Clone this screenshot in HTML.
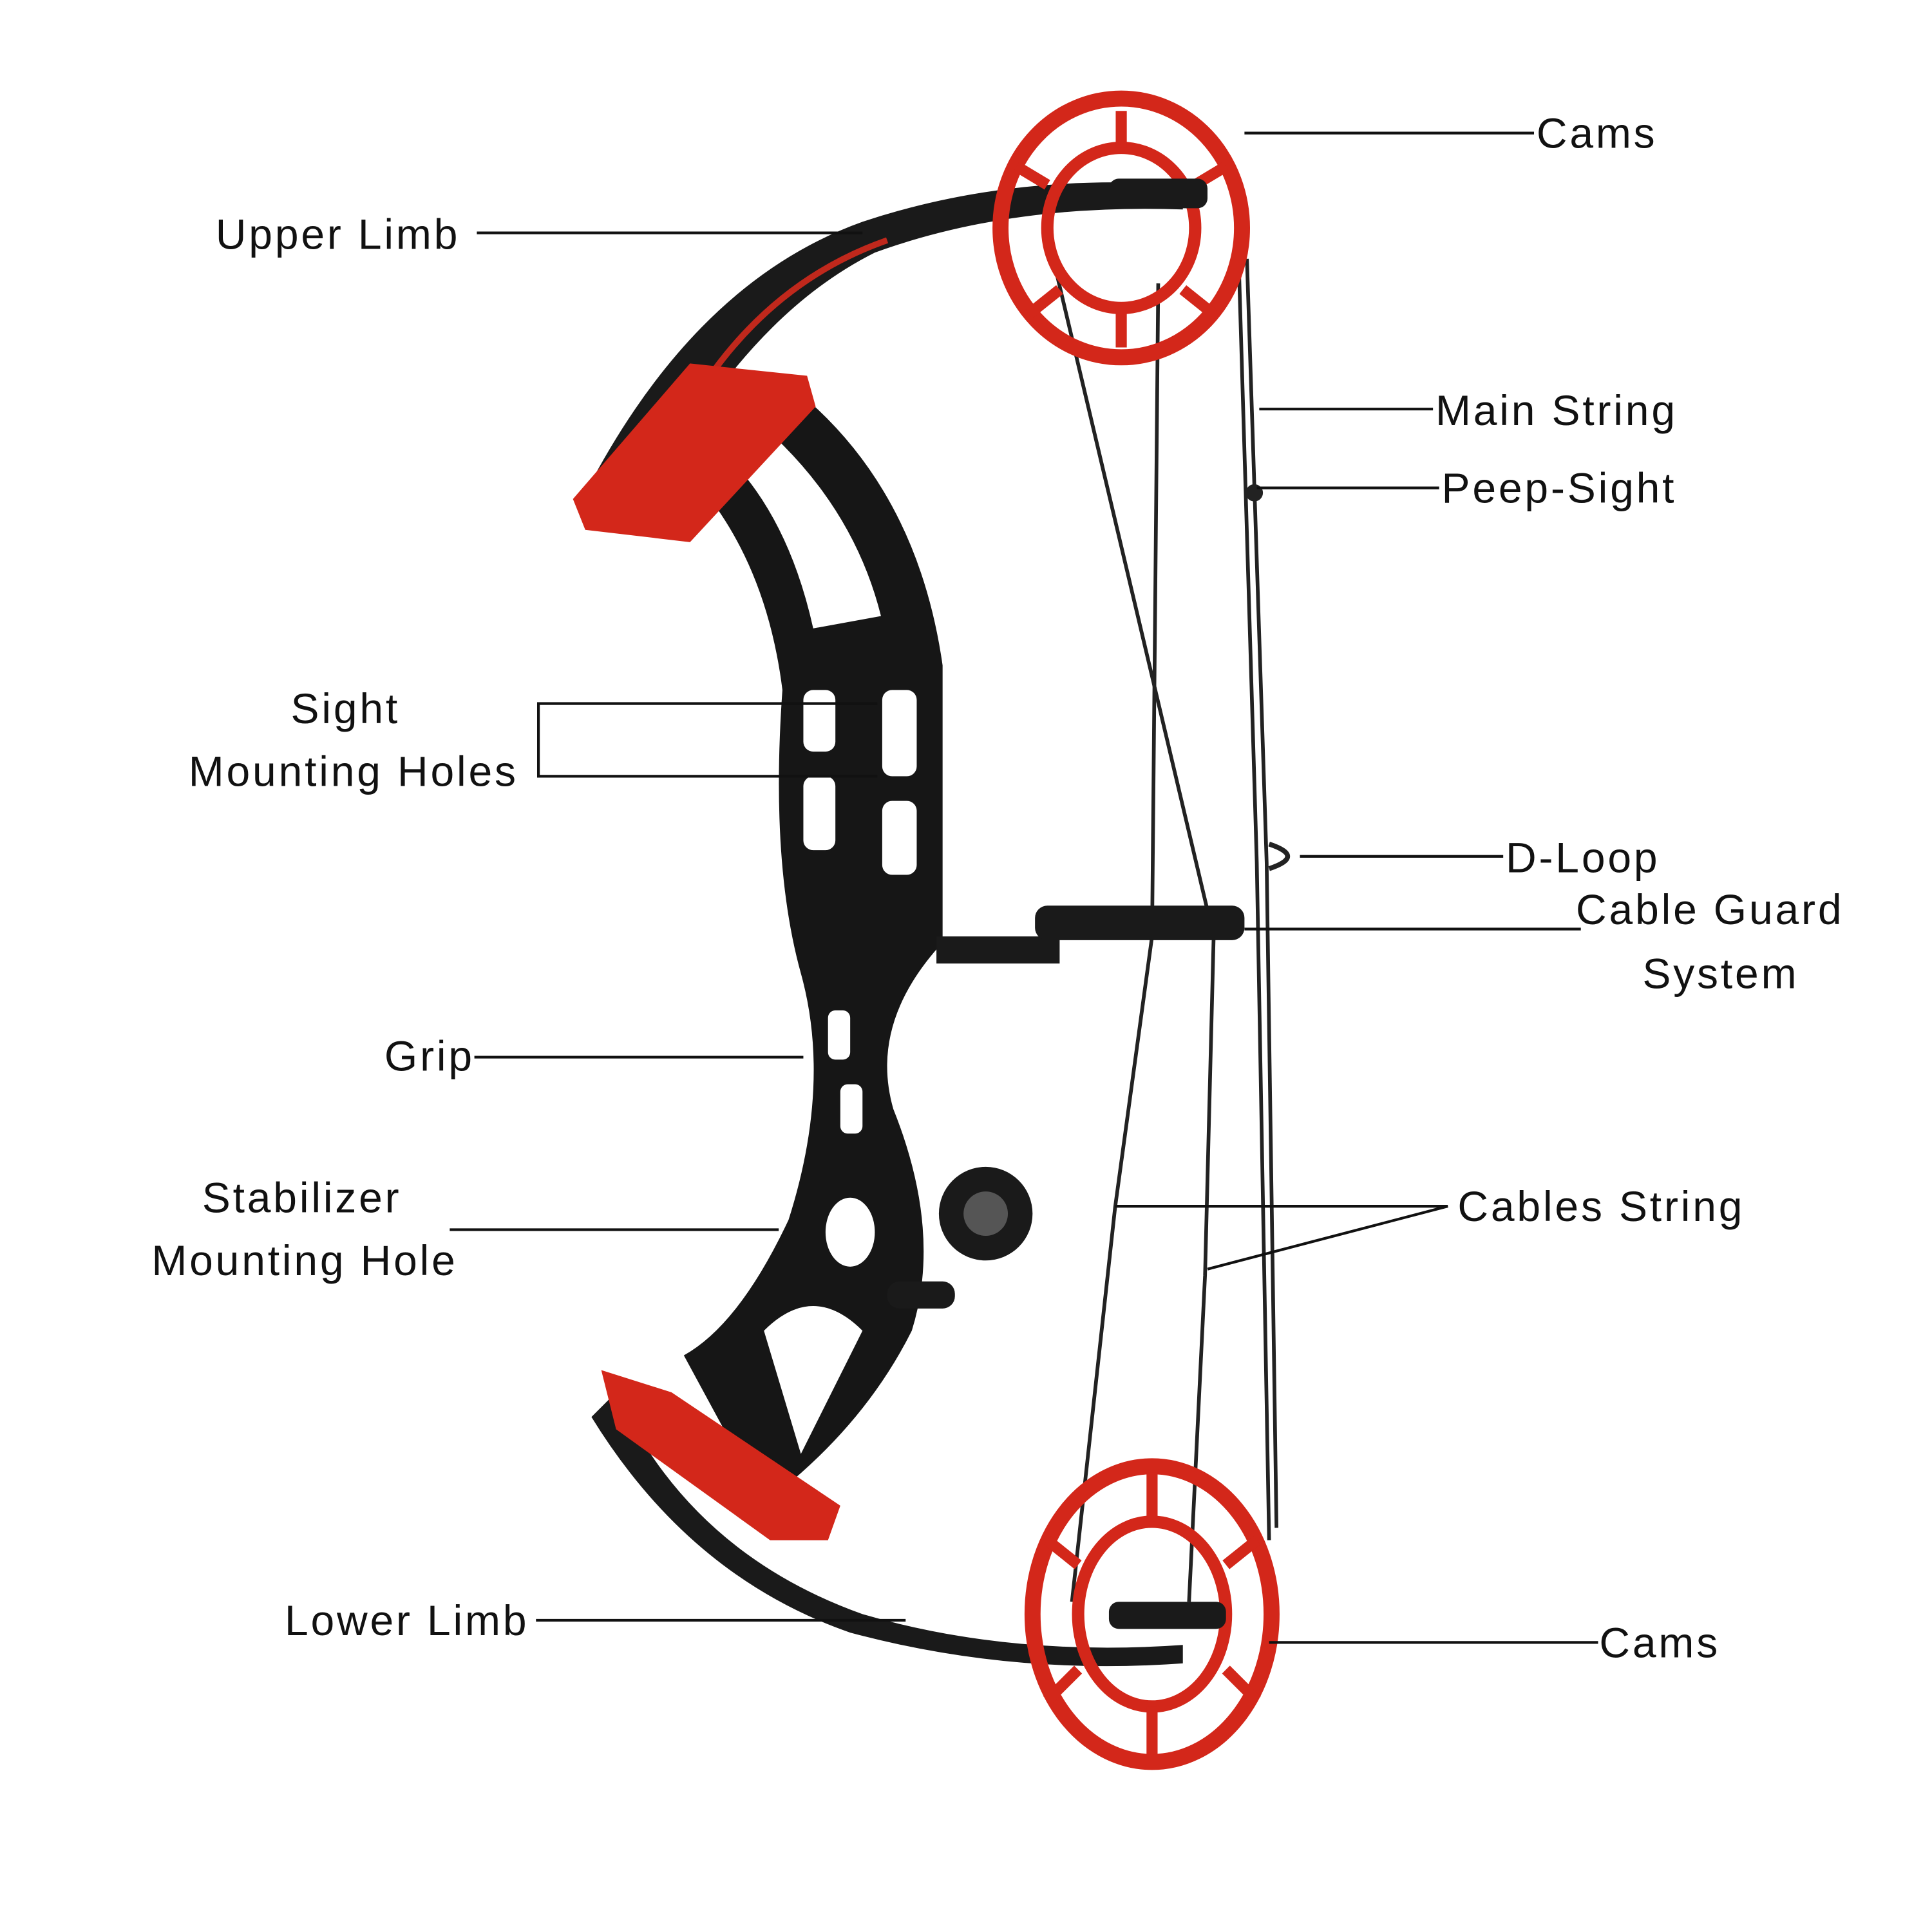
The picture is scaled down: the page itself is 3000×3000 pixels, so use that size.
<!DOCTYPE html>
<html><head><meta charset="utf-8">
<style>
html,body{margin:0;padding:0;background:#fff;}
svg{display:block;}
text{font-family:"Liberation Sans",sans-serif;font-size:34.5px;fill:#111;letter-spacing:2px;}
</style></head>
<body>
<svg width="3000" height="3000" viewBox="0 0 1568 1568" xmlns="http://www.w3.org/2000/svg">
<rect width="1568" height="1568" fill="#fff"/>
<!-- strings -->
<g stroke="#222" stroke-width="3" fill="none">
<path d="M1005 200 L1020 700 L1030 1250"/>
<path d="M1012 210 L1028 700 L1036 1240"/>
<path d="M850 190 L985 760 L978 1035 L965 1300"/>
<path d="M940 230 L935 760 L905 980 L870 1300"/>
</g>
<!-- upper limb -->
<path d="M470 410 Q560 230 700 180 Q820 140 960 150 L960 170 Q820 165 710 205 Q600 260 520 420 Z" fill="#1a1a1a"/>
<path d="M560 330 Q620 230 720 195" stroke="#c0281c" stroke-width="5" fill="none"/>
<!-- lower limb -->
<path d="M500 1130 Q560 1260 700 1310 Q820 1345 960 1335 L960 1350 Q820 1360 690 1325 Q560 1280 480 1150 Z" fill="#1a1a1a"/>
<!-- riser -->
<path d="M545 370 Q620 440 635 560 Q625 700 650 790 Q675 880 640 990 Q600 1075 555 1100 L620 1220 Q700 1160 740 1080 Q765 1000 725 900 Q705 830 765 765 L765 540 Q745 400 650 320 Z" fill="#161616"/>
<path d="M600 330 Q690 400 715 500 L660 510 Q640 420 590 370 Z" fill="#fff"/>
<g fill="#fff">
<rect x="652" y="560" width="26" height="50" rx="8"/><rect x="652" y="630" width="26" height="60" rx="8"/>
<rect x="716" y="560" width="28" height="70" rx="8"/><rect x="716" y="650" width="28" height="60" rx="8"/>
<rect x="672" y="820" width="18" height="40" rx="6"/><rect x="682" y="880" width="18" height="40" rx="6"/>
<ellipse cx="690" cy="1000" rx="20" ry="28"/>
<path d="M620 1080 Q660 1040 700 1080 L650 1180 Z"/>
</g>
<!-- red limb pockets -->
<path d="M465 405 L560 295 L655 305 L662 330 L560 440 L475 430 Z" fill="#d3271a"/>
<path d="M488 1112 L545 1130 L682 1222 L672 1250 L625 1250 L500 1160 Z" fill="#d3271a"/>
<!-- cable guard / rest -->
<rect x="760" y="760" width="100" height="22" fill="#1a1a1a"/>
<rect x="840" y="735" width="170" height="28" rx="10" fill="#1a1a1a"/>
<circle cx="800" cy="985" r="38" fill="#1a1a1a"/><circle cx="800" cy="985" r="18" fill="#555"/>
<rect x="720" y="1040" width="55" height="22" rx="10" fill="#1a1a1a"/>
<!-- cams -->
<g fill="none" stroke="#d3271a">
<ellipse cx="910" cy="185" rx="98" ry="105" stroke-width="13"/>
<ellipse cx="910" cy="185" rx="60" ry="65" stroke-width="10"/>
<path d="M910 120 L910 90 M850 150 L825 135 M970 150 L995 135 M860 235 L835 255 M960 235 L985 255 M910 250 L910 282" stroke-width="9"/>
<ellipse cx="935" cy="1310" rx="97" ry="120" stroke-width="13"/>
<ellipse cx="935" cy="1310" rx="60" ry="75" stroke-width="10"/>
<path d="M935 1235 L935 1195 M875 1270 L850 1250 M995 1270 L1020 1250 M875 1355 L850 1380 M995 1355 L1020 1380 M935 1385 L935 1425" stroke-width="9"/>
</g>
<rect x="900" y="145" width="80" height="24" rx="8" fill="#1a1a1a"/>
<rect x="900" y="1300" width="95" height="22" rx="8" fill="#1a1a1a"/>
<circle cx="1018" cy="400" r="7" fill="#222"/>
<path d="M1030 685 Q1060 695 1030 705" stroke="#222" stroke-width="4" fill="none"/>
<!-- leader lines -->
<g stroke="#111" stroke-width="2.2" fill="none">
<path d="M1010 108 H1245"/>
<path d="M387 189 H700"/>
<path d="M1022 332 H1163"/>
<path d="M1020 396 H1168"/>
<path d="M712 571 H437 V630 H712"/>
<path d="M1055 695 H1220"/>
<path d="M1010 754 H1283"/>
<path d="M385 858 H652"/>
<path d="M365 998 H632"/>
<path d="M905 979 H1175 L980 1030"/>
<path d="M435 1315 H735"/>
<path d="M1030 1333 H1297"/>
</g>
<!-- labels -->
<text x="1247" y="120">Cams</text>
<text x="175" y="202">Upper Limb</text>
<text x="1165" y="345">Main String</text>
<text x="1170" y="408">Peep-Sight</text>
<text x="236" y="587">Sight</text>
<text x="153" y="638">Mounting Holes</text>
<text x="1222" y="708">D-Loop</text>
<text x="1279" y="750">Cable Guard</text>
<text x="1333" y="802">System</text>
<text x="312" y="869">Grip</text>
<text x="164" y="984">Stabilizer</text>
<text x="123" y="1035">Mounting Hole</text>
<text x="1183" y="991">Cables String</text>
<text x="231" y="1327">Lower Limb</text>
<text x="1298" y="1345">Cams</text>
</svg>
</body></html>
